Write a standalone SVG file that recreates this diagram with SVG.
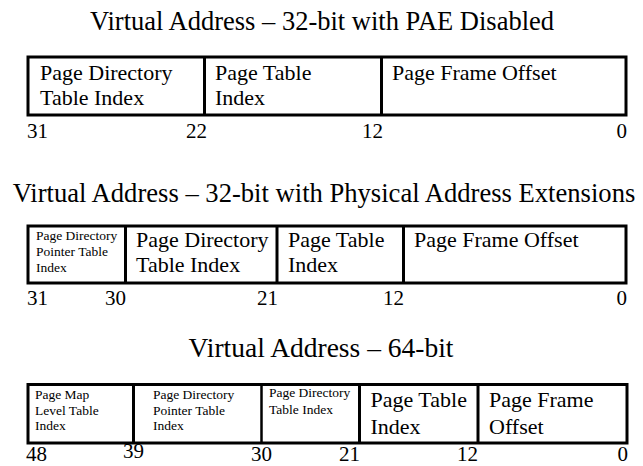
<svg xmlns="http://www.w3.org/2000/svg" width="643" height="466" viewBox="0 0 643 466">
<style>
text{font-family:"Liberation Serif","Times New Roman",serif;fill:#000}
.t{text-anchor:middle}
.b{font-size:22px}
.s{font-size:13.5px}
.n{font-size:21px}
.e{text-anchor:end}
.box{fill:#fff;stroke:#000;stroke-width:3}
.div{stroke:#000;stroke-width:3}
</style>
<rect width="643" height="466" fill="#fff"/>
<!-- Diagram 1 -->
<g id="va32">
<text class="t" x="322" y="30" font-size="26.5">Virtual Address – 32-bit with PAE Disabled</text>
<rect class="box" x="28" y="57" width="598" height="58"/>
<line class="div" x1="204.5" y1="57" x2="204.5" y2="115"/>
<line class="div" x1="381.5" y1="57" x2="381.5" y2="115"/>
<g id="va32-pd"><text class="b" x="40" y="80">Page Directory</text><text class="b" x="40" y="105">Table Index</text></g>
<g id="va32-pt"><text class="b" x="215" y="80">Page Table</text><text class="b" x="215" y="105">Index</text></g>
<g id="va32-off"><text class="b" x="392" y="80">Page Frame Offset</text></g>
<text class="n" x="27" y="138">31</text>
<text class="n e" x="207" y="138">22</text>
<text class="n e" x="383" y="138">12</text>
<text class="n e" x="627" y="138">0</text>
</g>
<!-- Diagram 2 -->
<g id="pae">
<text class="t" x="324" y="202" font-size="26.6">Virtual Address – 32-bit with Physical Address Extensions</text>
<rect class="box" x="28" y="226" width="598" height="57"/>
<line class="div" x1="125.5" y1="226" x2="125.5" y2="283"/>
<line class="div" x1="277" y1="226" x2="277" y2="283"/>
<line class="div" x1="403.5" y1="226" x2="403.5" y2="283"/>
<g id="pae-pdpt"><text class="s" x="36" y="240">Page Directory</text><text class="s" x="36" y="255.5">Pointer Table</text><text class="s" x="36" y="271.5">Index</text></g>
<g id="pae-pd"><text class="b" x="136" y="247">Page Directory</text><text class="b" x="136" y="272">Table Index</text></g>
<g id="pae-pt"><text class="b" x="288" y="247">Page Table</text><text class="b" x="288" y="272">Index</text></g>
<g id="pae-off"><text class="b" x="414" y="247">Page Frame Offset</text></g>
<text class="n" x="27" y="305">31</text>
<text class="n e" x="126" y="305">30</text>
<text class="n e" x="278" y="305">21</text>
<text class="n e" x="404" y="305">12</text>
<text class="n e" x="627" y="305">0</text>
</g>
<!-- Diagram 3 -->
<g id="va64">
<text class="t" x="321" y="357" font-size="27.5">Virtual Address – 64-bit</text>
<rect class="box" x="28" y="384.5" width="599" height="58.5"/>
<line class="div" x1="133.5" y1="384.5" x2="133.5" y2="443"/>
<line class="div" x1="261.5" y1="384.5" x2="261.5" y2="443" style="stroke-width:2.5"/>
<line class="div" x1="359.5" y1="384.5" x2="359.5" y2="443"/>
<line class="div" x1="478" y1="384.5" x2="478" y2="443"/>
<g id="va64-pml"><text class="s" x="35" y="398.5">Page Map</text><text class="s" x="35" y="414.5">Level Table</text><text class="s" x="35" y="430">Index</text></g>
<g id="va64-pdpt"><text class="s" x="153" y="398.5">Page Directory</text><text class="s" x="153" y="414.5">Pointer Table</text><text class="s" x="153" y="430">Index</text></g>
<g id="va64-pd"><text class="s" x="269" y="397">Page Directory</text><text class="s" x="269" y="413.5">Table Index</text></g>
<g id="va64-pt"><text class="b" x="370.5" y="407">Page Table</text><text class="b" x="370.5" y="433.5">Index</text></g>
<g id="va64-off"><text class="b" x="489" y="407">Page Frame</text><text class="b" x="489" y="433.5">Offset</text></g>
<text class="n" x="26" y="461">48</text>
<text class="n" x="123" y="458">39</text>
<text class="n" x="251" y="461">30</text>
<text class="n e" x="360" y="461">21</text>
<text class="n e" x="478" y="461">12</text>
<text class="n e" x="628" y="461">0</text>
</g>
</svg>
